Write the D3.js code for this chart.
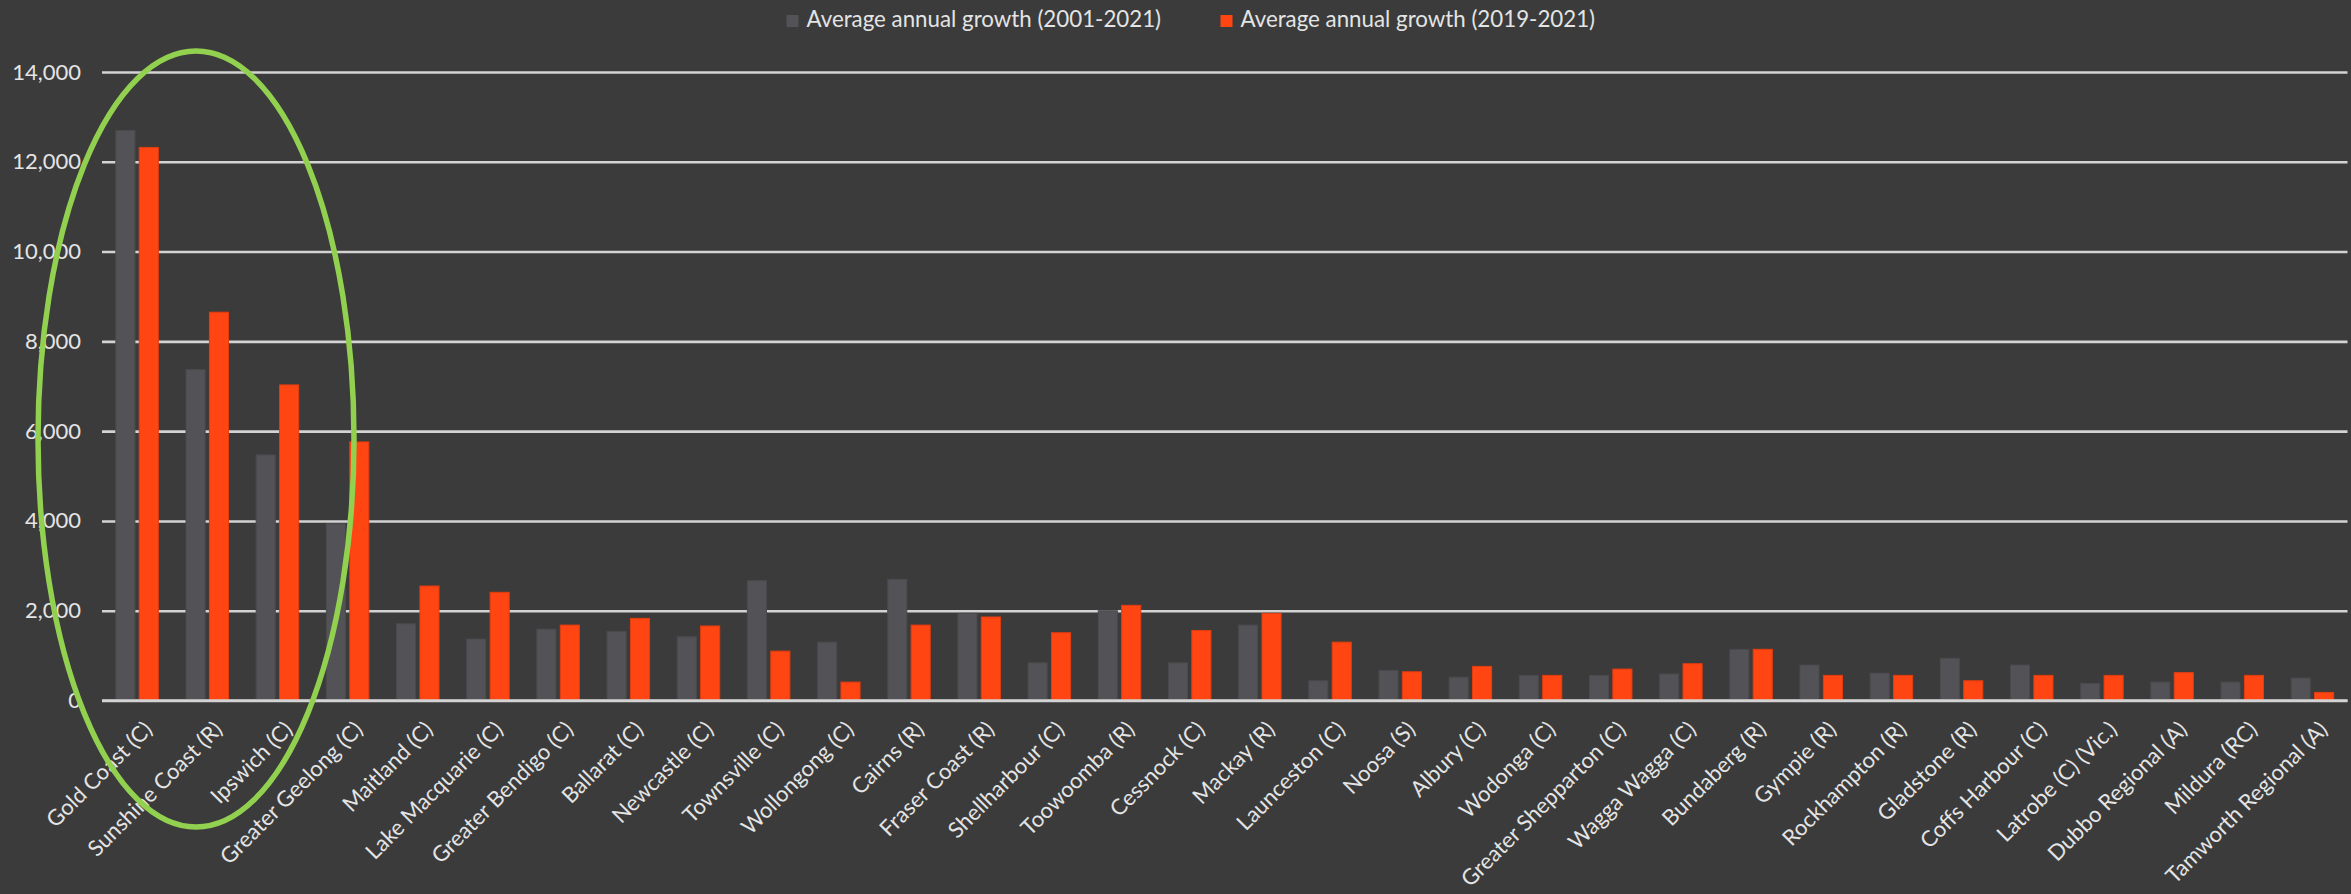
<!DOCTYPE html>
<html>
<head>
<meta charset="utf-8">
<script src="https://cdn.jsdelivr.net/npm/d3@7"></script>
<style>
  html, body { margin: 0; padding: 0; background: #3b3b3b; }
  svg { display: block; }
  text { font-family: Lato, "Open Sans", "Noto Sans", sans-serif; }
</style>
</head>
<body>
<svg id="chart" width="2351" height="894"></svg>
<script>
// Local government areas, ordered by recent growth
const categories = [
  "Gold Coast (C)", "Sunshine Coast (R)", "Ipswich (C)", "Greater Geelong (C)",
  "Maitland (C)", "Lake Macquarie (C)", "Greater Bendigo (C)", "Ballarat (C)",
  "Newcastle (C)", "Townsville (C)", "Wollongong (C)", "Cairns (R)",
  "Fraser Coast (R)", "Shellharbour (C)", "Toowoomba (R)", "Cessnock (C)",
  "Mackay (R)", "Launceston (C)", "Noosa (S)", "Albury (C)",
  "Wodonga (C)", "Greater Shepparton (C)", "Wagga Wagga (C)", "Bundaberg (R)",
  "Gympie (R)", "Rockhampton (R)", "Gladstone (R)", "Coffs Harbour (C)",
  "Latrobe (C) (Vic.)", "Dubbo Regional (A)", "Mildura (RC)", "Tamworth Regional (A)"
];

const seriesNames = ["Average annual growth (2001-2021)", "Average annual growth (2019-2021)"];

// Average annual population growth, 2001-2021
const growth2001_2021 = [
  12700, 7370, 5470, 3940, 1710, 1370, 1590, 1540,
  1420, 2670, 1300, 2700, 1940, 840, 2000, 840,
  1680, 440, 670, 520, 560, 560, 590, 1140,
  790, 610, 940, 790, 380, 410, 410, 500
];

// Average annual population growth, 2019-2021
const growth2019_2021 = [
  12320, 8650, 7030, 5760, 2550, 2410, 1680, 1830,
  1660, 1100, 410, 1680, 1860, 1510, 2120, 1560,
  1940, 1300, 640, 760, 560, 700, 820, 1140,
  560, 560, 440, 560, 560, 620, 560, 180
];

const yTicks = [0, 2000, 4000, 6000, 8000, 10000, 12000, 14000];

const colors = ["#535357", "#ff4612"];
const outlines = ["#4a4a4e", "#e23d10"];

const svg = d3.select("#chart");
const W = 2351, H = 894;
const plot = { left: 102, right: 2347.5, top: 72, bottom: 700.5 };

svg.append("rect").attr("width", W).attr("height", H).attr("fill", "#3b3b3b");

const x = d3.scaleBand()
  .domain(categories)
  .range([plot.left, plot.right])
  .paddingInner(0.394)
  .paddingOuter(0.197);

const x1 = d3.scaleBand()
  .domain(seriesNames)
  .range([0, x.bandwidth()])
  .paddingInner(0.184);

const y = d3.scaleLinear()
  .domain([0, 14000])
  .range([plot.bottom, plot.top]);

// Value axis with horizontal gridlines
const yAxis = svg.append("g")
  .attr("transform", `translate(${plot.left},0)`)
  .call(d3.axisLeft(y)
    .tickValues(yTicks)
    .tickFormat(d3.format(","))
    .tickSize(-(plot.right - plot.left))
    .tickPadding(21));
yAxis.select(".domain").remove();
yAxis.selectAll(".tick line")
  .attr("stroke", "#d3d3d3")
  .attr("stroke-width", 2.6);
yAxis.selectAll(".tick text")
  .attr("fill", "#e4e4e4")
  .style("font-size", "22px");

// Clustered bars
const rows = categories.map((c, i) => ({
  name: c,
  values: [growth2001_2021[i], growth2019_2021[i]]
}));

const groups = svg.append("g")
  .selectAll("g")
  .data(rows)
  .join("g")
  .attr("transform", d => `translate(${x(d.name)},0)`);

groups.selectAll("rect")
  .data(d => d.values.map((v, k) => ({ key: seriesNames[k], k, v })))
  .join("rect")
  .attr("x", d => x1(d.key))
  .attr("y", d => y(d.v))
  .attr("width", x1.bandwidth())
  .attr("height", d => y(0) - y(d.v))
  .attr("fill", d => colors[d.k])
  .attr("stroke", d => outlines[d.k])
  .attr("stroke-width", 1);

// Zero line over the bar bases
svg.append("line")
  .attr("x1", plot.left).attr("x2", plot.right)
  .attr("y1", y(0)).attr("y2", y(0))
  .attr("stroke", "#d3d3d3")
  .attr("stroke-width", 2.6);

// Category axis with slanted labels
const xAxis = svg.append("g")
  .attr("transform", `translate(0,${plot.bottom})`)
  .call(d3.axisBottom(x).tickSize(0).tickPadding(0));
xAxis.select(".domain").remove();
xAxis.selectAll(".tick text")
  .attr("fill", "#e4e4e4")
  .style("font-size", "22px")
  .attr("text-anchor", "end")
  .attr("dy", "0.35em")
  .attr("transform", "translate(11,25) rotate(-45)");

// Legend
const legend = svg.append("g");
const legendX = [786.5, 1220.5];
seriesNames.forEach((name, k) => {
  legend.append("rect")
    .attr("x", legendX[k]).attr("y", 15)
    .attr("width", 12).attr("height", 12)
    .attr("fill", colors[k]);
  legend.append("text")
    .attr("x", legendX[k] + 20).attr("y", 27)
    .attr("fill", "#e4e4e4")
    .style("font-size", "22.3px")
    .text(name);
});

// Highlight around the four fastest-growing areas
svg.append("ellipse")
  .attr("cx", 196)
  .attr("cy", 439)
  .attr("rx", 158)
  .attr("ry", 388)
  .attr("fill", "none")
  .attr("stroke", "#92d050")
  .attr("stroke-width", 5.5);
</script>
</body>
</html>
